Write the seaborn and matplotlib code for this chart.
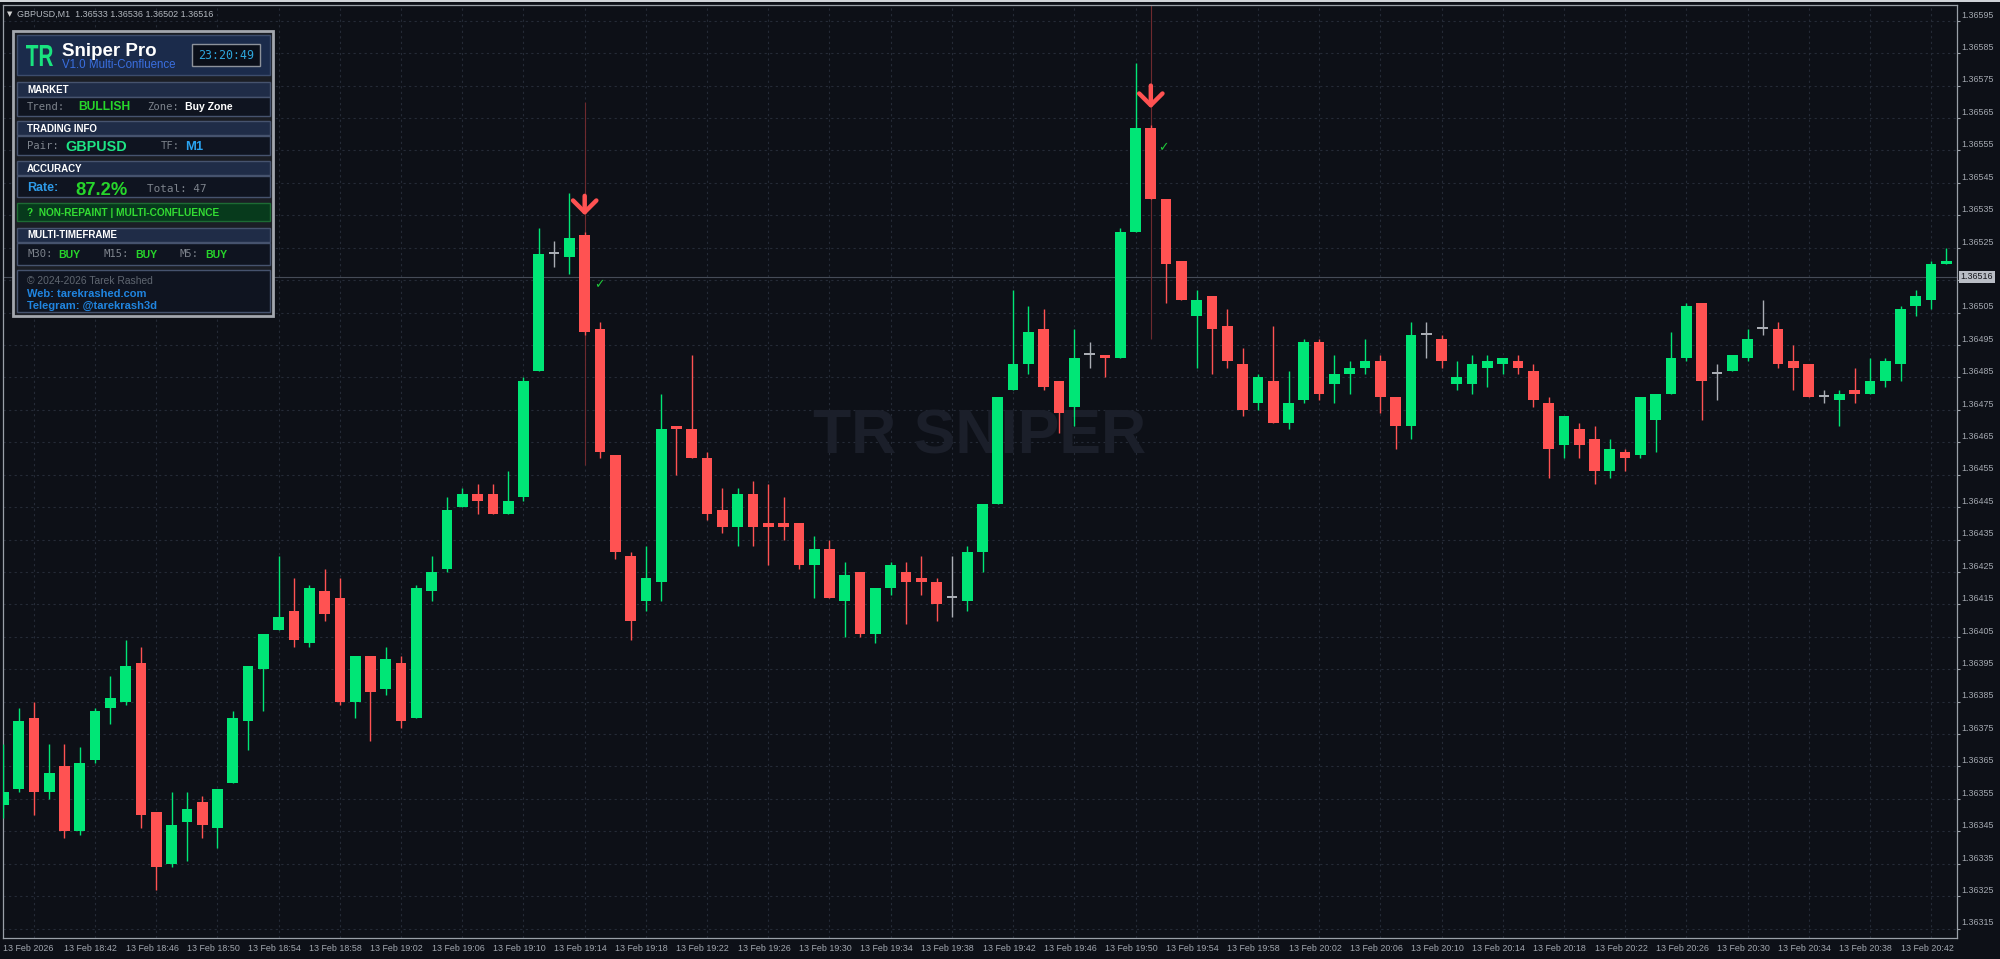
import numpy as np
import pandas as pd
import matplotlib
matplotlib.use("Agg")
import matplotlib.pyplot as plt
import matplotlib.transforms as mtrans
from matplotlib.patches import Rectangle, PathPatch
from matplotlib.textpath import TextPath
from matplotlib.font_manager import FontProperties
import seaborn as sns

# GBPUSD M1 candles, 13 Feb 18:38 -> 20:45
opens = [
    1.36353, 1.36358, 1.36380, 1.36357, 1.36365, 1.36345, 1.36367, 1.36383, 1.36385, 1.36397,
    1.36351, 1.36335, 1.36348, 1.36354, 1.36346, 1.36360, 1.36379, 1.36395, 1.36407, 1.36413,
    1.36403, 1.36419, 1.36417, 1.36385, 1.36399, 1.36389, 1.36397, 1.36380, 1.36419, 1.36426,
    1.36445, 1.36449, 1.36449, 1.36443, 1.36448, 1.36487, 1.36523, 1.36522, 1.36529, 1.36500,
    1.36461, 1.36430, 1.36416, 1.36422, 1.36470, 1.36469, 1.36460, 1.36444, 1.36439, 1.36449,
    1.36440, 1.36440, 1.36440, 1.36427, 1.36432, 1.36416, 1.36425, 1.36406, 1.36420, 1.36425,
    1.36423, 1.36422, 1.36417, 1.36416, 1.36431, 1.36446, 1.36481, 1.36489, 1.36500, 1.36484,
    1.36476, 1.36492, 1.36492, 1.36491, 1.36530, 1.36562, 1.36540, 1.36521, 1.36504, 1.36510,
    1.36501, 1.36489, 1.36477, 1.36484, 1.36471, 1.36478, 1.36496, 1.36483, 1.36486, 1.36488,
    1.36490, 1.36479, 1.36470, 1.36498, 1.36497, 1.36483, 1.36483, 1.36488, 1.36489, 1.36490,
    1.36487, 1.36477, 1.36464, 1.36469, 1.36466, 1.36456, 1.36462, 1.36461, 1.36472, 1.36480,
    1.36491, 1.36508, 1.36486, 1.36487, 1.36491, 1.36500, 1.36500, 1.36490, 1.36489, 1.36479,
    1.36478, 1.36481, 1.36480, 1.36484, 1.36489, 1.36507, 1.36509, 1.36520,
]
highs = [
    1.36372, 1.36383, 1.36385, 1.36372, 1.36372, 1.36371, 1.36383, 1.36393, 1.36404, 1.36402,
    1.36351, 1.36357, 1.36357, 1.36356, 1.36358, 1.36382, 1.36396, 1.36406, 1.36430, 1.36423,
    1.36421, 1.36426, 1.36423, 1.36399, 1.36399, 1.36402, 1.36399, 1.36421, 1.36430, 1.36448,
    1.36451, 1.36452, 1.36452, 1.36456, 1.36485, 1.36531, 1.36527, 1.36542, 1.36530, 1.36502,
    1.36461, 1.36431, 1.36433, 1.36480, 1.36470, 1.36492, 1.36462, 1.36451, 1.36451, 1.36453,
    1.36452, 1.36448, 1.36440, 1.36436, 1.36435, 1.36428, 1.36425, 1.36420, 1.36428, 1.36428,
    1.36430, 1.36423, 1.36430, 1.36433, 1.36446, 1.36479, 1.36512, 1.36507, 1.36506, 1.36484,
    1.36500, 1.36496, 1.36492, 1.36531, 1.36582, 1.36563, 1.36540, 1.36521, 1.36512, 1.36510,
    1.36506, 1.36494, 1.36486, 1.36501, 1.36487, 1.36497, 1.36497, 1.36492, 1.36490, 1.36497,
    1.36492, 1.36479, 1.36502, 1.36502, 1.36498, 1.36490, 1.36492, 1.36492, 1.36491, 1.36492,
    1.36489, 1.36479, 1.36473, 1.36471, 1.36470, 1.36466, 1.36463, 1.36479, 1.36480, 1.36499,
    1.36508, 1.36508, 1.36489, 1.36492, 1.36500, 1.36509, 1.36502, 1.36495, 1.36489, 1.36481,
    1.36481, 1.36488, 1.36491, 1.36491, 1.36507, 1.36512, 1.36521, 1.36525,
]
lows = [
    1.36349, 1.36357, 1.36350, 1.36355, 1.36343, 1.36344, 1.36366, 1.36378, 1.36384, 1.36346,
    1.36327, 1.36334, 1.36336, 1.36343, 1.36340, 1.36360, 1.36370, 1.36382, 1.36407, 1.36402,
    1.36402, 1.36410, 1.36384, 1.36380, 1.36373, 1.36387, 1.36377, 1.36380, 1.36416, 1.36425,
    1.36445, 1.36443, 1.36443, 1.36443, 1.36447, 1.36487, 1.36519, 1.36517, 1.36498, 1.36460,
    1.36429, 1.36404, 1.36413, 1.36416, 1.36455, 1.36460, 1.36441, 1.36437, 1.36433, 1.36433,
    1.36427, 1.36435, 1.36426, 1.36417, 1.36417, 1.36405, 1.36405, 1.36403, 1.36418, 1.36409,
    1.36418, 1.36410, 1.36411, 1.36413, 1.36425, 1.36446, 1.36481, 1.36486, 1.36481, 1.36468,
    1.36470, 1.36488, 1.36485, 1.36491, 1.36530, 1.36540, 1.36508, 1.36509, 1.36488, 1.36486,
    1.36488, 1.36473, 1.36475, 1.36471, 1.36469, 1.36477, 1.36478, 1.36477, 1.36480, 1.36486,
    1.36474, 1.36463, 1.36466, 1.36491, 1.36488, 1.36481, 1.36480, 1.36482, 1.36486, 1.36486,
    1.36476, 1.36454, 1.36460, 1.36460, 1.36452, 1.36454, 1.36456, 1.36460, 1.36462, 1.36480,
    1.36490, 1.36472, 1.36478, 1.36487, 1.36490, 1.36498, 1.36488, 1.36481, 1.36479, 1.36477,
    1.36470, 1.36477, 1.36480, 1.36482, 1.36484, 1.36504, 1.36506, 1.36520,
]
closes = [
    1.36357, 1.36379, 1.36357, 1.36363, 1.36345, 1.36366, 1.36382, 1.36386, 1.36396, 1.36350,
    1.36334, 1.36347, 1.36352, 1.36347, 1.36358, 1.36380, 1.36396, 1.36406, 1.36411, 1.36404,
    1.36420, 1.36412, 1.36385, 1.36399, 1.36388, 1.36398, 1.36379, 1.36420, 1.36425, 1.36444,
    1.36449, 1.36447, 1.36443, 1.36447, 1.36484, 1.36523, 1.36523, 1.36528, 1.36499, 1.36462,
    1.36431, 1.36410, 1.36423, 1.36469, 1.36469, 1.36460, 1.36443, 1.36439, 1.36449, 1.36439,
    1.36439, 1.36439, 1.36427, 1.36432, 1.36417, 1.36424, 1.36406, 1.36420, 1.36427, 1.36422,
    1.36422, 1.36415, 1.36417, 1.36431, 1.36446, 1.36479, 1.36489, 1.36499, 1.36482, 1.36474,
    1.36491, 1.36492, 1.36491, 1.36530, 1.36562, 1.36540, 1.36520, 1.36509, 1.36509, 1.36500,
    1.36490, 1.36475, 1.36485, 1.36471, 1.36477, 1.36496, 1.36480, 1.36486, 1.36488, 1.36490,
    1.36479, 1.36470, 1.36498, 1.36498, 1.36490, 1.36485, 1.36489, 1.36490, 1.36491, 1.36488,
    1.36478, 1.36463, 1.36473, 1.36464, 1.36456, 1.36463, 1.36460, 1.36479, 1.36480, 1.36491,
    1.36507, 1.36484, 1.36486, 1.36492, 1.36497, 1.36500, 1.36489, 1.36488, 1.36479, 1.36479,
    1.36480, 1.36480, 1.36484, 1.36490, 1.36506, 1.36510, 1.36520, 1.36521,
]

time_labels = [
    "13 Feb 2026", "13 Feb 18:42", "13 Feb 18:46", "13 Feb 18:50", "13 Feb 18:54",
    "13 Feb 18:58", "13 Feb 19:02", "13 Feb 19:06", "13 Feb 19:10", "13 Feb 19:14",
    "13 Feb 19:18", "13 Feb 19:22", "13 Feb 19:26", "13 Feb 19:30", "13 Feb 19:34",
    "13 Feb 19:38", "13 Feb 19:42", "13 Feb 19:46", "13 Feb 19:50", "13 Feb 19:54",
    "13 Feb 19:58", "13 Feb 20:02", "13 Feb 20:06", "13 Feb 20:10", "13 Feb 20:14",
    "13 Feb 20:18", "13 Feb 20:22", "13 Feb 20:26", "13 Feb 20:30", "13 Feb 20:34",
    "13 Feb 20:38", "13 Feb 20:42",
]
price_ticks = [
    1.36315, 1.36325, 1.36335, 1.36345, 1.36355, 1.36365, 1.36375, 1.36385, 1.36395, 1.36405,
    1.36415, 1.36425, 1.36435, 1.36445, 1.36455, 1.36465, 1.36475, 1.36485, 1.36495, 1.36505,
    1.36515, 1.36525, 1.36535, 1.36545, 1.36555, 1.36565, 1.36575, 1.36585, 1.36595,
]
current_price = 1.36516

# sell signals: bar, arrow tail/tip, vertical marker line span, check mark
sell_bars = [38, 75]
arrow_tail = [1.36541, 1.36575]
arrow_tip = [1.36535, 1.36568]
signal_lo = [1.36458, 1.36497]
signal_hi = [1.36570, 1.36600]
check_x = [38.93, 75.8]
check_y = [1.365135, 1.365558]

BG = "#0d1017"
BULL = "#00e676"
BEAR = "#ff5252"
DOJI = "#a9adb4"
GRID = "#252b37"
TXT = "#a3a8b0"
SPINE = "#9aa0a8"

sns.set_theme(style="dark", rc={"axes.facecolor": BG, "figure.facecolor": BG,
                                "savefig.facecolor": BG})
plt.rcParams["font.family"] = ["Liberation Sans", "DejaVu Sans"]

df = pd.DataFrame({"o": opens, "h": highs, "l": lows, "c": closes})
df["bar"] = np.arange(len(df))
df["color"] = np.where(df.c > df.o, BULL, np.where(df.c < df.o, BEAR, DOJI))
df["bottom"] = df[["o", "c"]].min(axis=1)
df["height"] = (df.c - df.o).abs().clip(lower=0.0000055)

fig = plt.figure(figsize=(20, 9.59), dpi=100)
ax = fig.add_axes([2.5 / 2000, 21 / 959, 1954.5 / 2000, 933 / 959])

ax.vlines(df.bar, df.l, df.h, colors=df.color, lw=1.0, zorder=3)
ax.bar(df.bar, df.height, bottom=df.bottom, width=0.7, color=df.color, lw=0, zorder=4)

ax.set_xlim(-0.05, 127.69)
ax.set_ylim(1.363121, 1.3659986)

# grid / ticks
ax.set_xticks(np.arange(0, len(df), 4))
ax.set_xticklabels(time_labels, ha="left")
ax.set_xticks(np.arange(2, len(df), 4), minor=True)
ax.tick_params(axis="x", which="major", length=3, width=0.8, color=SPINE,
               labelsize=6.4, labelcolor=TXT, pad=1.5, direction="out")
ax.tick_params(axis="x", which="minor", length=0)
ax.set_yticks(price_ticks)
ax.yaxis.tick_right()
ax.tick_params(axis="y", length=2.5, width=0.8, color=SPINE, labelright=False, direction="out")
ax.grid(False)
ax.grid(True, which="minor", axis="x", color=GRID, lw=0.8, ls=(0, (2, 3)))
ax.grid(True, which="major", axis="y", color=GRID, lw=0.8, ls=(0, (2, 3)))
for s in ax.spines.values():
    s.set_color(SPINE)
    s.set_linewidth(0.9)

ylab = mtrans.blended_transform_factory(ax.transAxes, ax.transData)
lab_off = mtrans.ScaledTranslation(4.5 / 100, 5.7 / 100, fig.dpi_scale_trans)
for p in price_ticks:
    ax.text(1.0, p, f"{p:.5f}", transform=ylab + lab_off, ha="left", va="center",
            fontsize=6.4, color=TXT, clip_on=False)

ax.axhline(current_price, color="#454b57", lw=0.8, zorder=2)
ax.text(1.0, current_price, f"{current_price:.5f}",
        transform=ylab + mtrans.ScaledTranslation(3.5 / 100, 0, fig.dpi_scale_trans),
        ha="left", va="center", fontsize=6.4, color="#15171c", clip_on=False,
        bbox=dict(boxstyle="square,pad=0.2", fc="#b9bdc5", ec="none"))

ax.text(63.8, 1.364666, "TR SNIPER", ha="center", va="center", fontsize=45,
        fontweight="bold", color="#1b1f2a", zorder=1)

for b, t0, t1, lo, hi, cx, cy in zip(sell_bars, arrow_tail, arrow_tip, signal_lo,
                                     signal_hi, check_x, check_y):
    ax.vlines(b, lo, hi, color="#6e2a2e", lw=0.8, zorder=2)
    ax.annotate("", xy=(b, t1), xytext=(b, t0),
                arrowprops=dict(arrowstyle="->,head_length=0.7,head_width=0.7",
                                lw=3.2, color=BEAR, shrinkA=0, shrinkB=0), zorder=6)
    ax.text(cx, cy, "\u2713", color="#1fc83a", fontsize=9, ha="center", va="center",
            family="DejaVu Sans", zorder=6)

# ---- info panel (pixel coordinates, top-down) ----
ov = fig.add_axes([0, 0, 1, 1], zorder=10)
ov.set_xlim(0, 2000)
ov.set_ylim(959, 0)
ov.axis("off")

MONO = "DejaVu Sans Mono"


def box(x0, y0, x1, y1, fc, ec, lw=1.0):
    ov.add_patch(Rectangle((x0, y0), x1 - x0, y1 - y0, fc=fc, ec=ec, lw=lw))


def txt(x, y, s, color, size, weight="normal", family=None, ha="left"):
    ov.text(x, y, s, color=color, fontsize=size, fontweight=weight, ha=ha, va="center",
            family=family if family else ["Liberation Sans", "DejaVu Sans"])


ov.add_patch(Rectangle((0, 0), 2000, 2.2, fc="#cfd3d8", ec="none"))
txt(7, 14, "\u25bc", "#d0d0d0", 5, family="DejaVu Sans")
txt(17, 14, "GBPUSD,M1  1.36533 1.36536 1.36502 1.36516", "#b4b9c0", 6.5)

box(13, 31, 273, 316, "#1b1e25", "#a3a7ae", 2.0)
box(17, 35, 270, 75, "#1b2b4b", "#3c4c6c")
tp = TextPath((0, 0), "TR", size=1, prop=FontProperties(family="Liberation Sans", weight="bold"))
ext = tp.get_extents()
tr = (mtrans.Affine2D().translate(-ext.x0, -ext.y0)
      .scale(27 / ext.width, -21 / ext.height).translate(26, 66))
ov.add_patch(PathPatch(tp, transform=tr + ov.transData, fc="#19e37f", ec="none"))
txt(62, 51, "Sniper Pro", "white", 13.5, "bold")
txt(62, 64.5, "V1.0 Multi-Confluence", "#3a6fe0", 8.3)
box(192, 44, 260, 66, "#0b0f19", "#8d929b")
txt(226, 55.5, "23:20:49", "#2ea6dc", 8.4, family=MONO, ha="center")

HEAD_FC, ROW_FC, EDGE = "#1f2c47", "#0f1420", "#46536e"
GRAY = "#7d838c"
GREEN = "#27d62b"

for y0, y1, label in [(82, 97, "MARKET"), (121, 135, "TRADING INFO"),
                      (161, 175, "ACCURACY"), (228, 242, "MULTI-TIMEFRAME")]:
    box(17, y0, 270, y1, HEAD_FC, EDGE)
    txt(27, (y0 + y1) / 2 + 0.5, label, "white", 7, "bold")

box(17, 97, 270, 116, ROW_FC, EDGE)
txt(27, 107, "Trend:", GRAY, 7.6, family=MONO)
txt(78, 107.5, "BULLISH", GREEN, 8.7, "bold")
txt(147, 107, "Zone:", GRAY, 7.6, family=MONO)
txt(185, 107, "Buy Zone", "white", 7.6, "bold")

box(17, 136, 270, 155, ROW_FC, EDGE)
txt(27, 146, "Pair:", GRAY, 7.6, family=MONO)
txt(65, 147, "GBPUSD", "#1ee585", 10.4, "bold")
txt(161, 146, "TF:", GRAY, 7.6, family=MONO)
txt(185, 147, "M1", "#29a3f0", 9.4, "bold")

box(17, 176, 270, 197, ROW_FC, EDGE)
txt(27, 188, "Rate:", "#2e9be8", 9, "bold")
txt(75, 190.5, "87.2%", GREEN, 13.2, "bold")
txt(147, 189, "Total: 47", GRAY, 7.9, family=MONO)

box(17, 203, 270, 221, "#073a1c", "#1d6b34")
txt(27, 212.5, "?  NON-REPAINT | MULTI-CONFLUENCE", "#33dd33", 7.3, "bold")

box(17, 243, 270, 265, ROW_FC, EDGE)
for x_lab, x_val, lab in [(27, 58, "M30:"), (103, 135, "M15:"), (180, 205, "M5:")]:
    txt(x_lab, 254, lab, GRAY, 7.6, family=MONO)
    txt(x_val, 254.5, "BUY", GREEN, 7.6, "bold")

box(17, 270, 270, 312, ROW_FC, EDGE)
txt(27, 281, "\u00a9 2024-2026 Tarek Rashed", "#5f6670", 7.4)
txt(27, 294, "Web: tarekrashed.com", "#2085e0", 8, "bold")
txt(27, 306, "Telegram: @tarekrash3d", "#2085e0", 8, "bold")

fig.savefig("out.png", dpi=100)
